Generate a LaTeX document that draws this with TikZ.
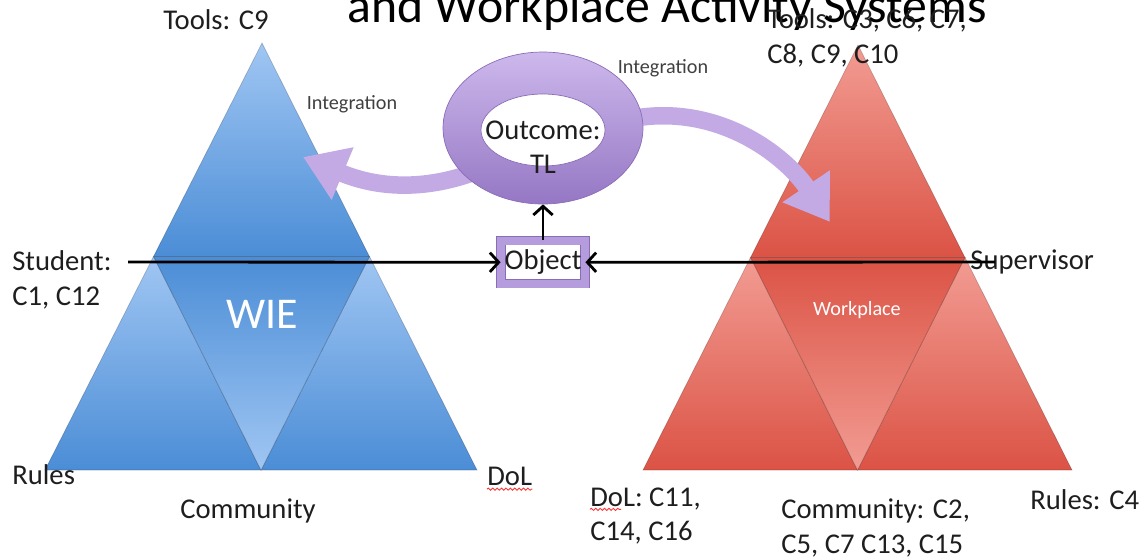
\documentclass[tikz,border=0pt]{standalone}
\usepackage{fontspec}
\setmainfont{Carlito}
\usetikzlibrary{positioning, arrows.meta, shapes.geometric, decorations.pathmorphing}

\definecolor{wielt}{HTML}{A0C6F3}
\definecolor{wiedk}{HTML}{4B8DD6}
\definecolor{wplt}{HTML}{F29C93}
\definecolor{wpdk}{HTML}{DB5345}
\definecolor{ringlt}{HTML}{CDB8EC}
\definecolor{ringdk}{HTML}{9577C4}
\definecolor{ringedge}{HTML}{8A6CB7}
\definecolor{bandfill}{HTML}{C3AAE4}
\definecolor{objframe}{HTML}{B59CDC}
\definecolor{labelgray}{HTML}{1E1E1E}

\begin{document}
\begin{tikzpicture}[x=0.02cm, y=-0.02cm,
  lbl/.style={font=\fontsize{16.3}{19.5}\selectfont, text=labelgray, inner sep=0pt, align=left},
  smalltxt/.style={font=\fontsize{11.5}{13}\selectfont, text=labelgray!85, inner sep=0pt},
  piece/.style={draw=black, draw opacity=0.2, line width=0.4pt},
  link/.style={line width=1.6pt, -{Straight Barb[length=5pt, width=11pt]}},
  band/.style={line width=0.35cm, draw=bandfill, -{Triangle[length=0.86cm, width=1.08cm]}},
  ring/.style={ellipse, minimum width=4cm, minimum height=3.04cm, top color=ringlt,
               bottom color=ringdk, draw=ringedge, line width=0.4pt},
  hole/.style={ellipse, minimum width=2.48cm, minimum height=1.44cm, fill=white,
               draw=ringedge, line width=0.4pt},
  objbox/.style={draw=ringedge, double=objframe, double distance=0.15cm, line width=0.5pt,
                 fill=white, minimum width=1.68cm, minimum height=0.86cm, inner sep=0pt},
  squiggle/.style={draw=red!80, line width=0.5pt, decorate,
                   decoration={snake, amplitude=0.6pt, segment length=2.5pt}}
]
\useasboundingbox (0,0) rectangle (1147,559);
\clip (0,0) rectangle (1147,559);

% Title (cut by the frame)
\node[font=\fontsize{28.3}{34}\selectfont, anchor=base] (title) at (667,22) {and Workplace Activity Systems};

% WIE triangle
\shadedraw[piece, top color=wielt, bottom color=wiedk] (262,43) -- (153.5,256.5) -- (369.5,256.5) -- cycle;
\shadedraw[piece, top color=wielt, bottom color=wiedk] (153.5,256.5) -- (45,470) -- (261,470) -- cycle;
\shadedraw[piece, top color=wielt, bottom color=wiedk] (369.5,256.5) -- (261,470) -- (477,470) -- cycle;
\shadedraw[piece, top color=wiedk, bottom color=wielt] (153.5,256.5) -- (369.5,256.5) -- (261,470) -- cycle;

% Workplace triangle
\shadedraw[piece, top color=wplt, bottom color=wpdk] (858,45) -- (750.5,257.5) -- (965,257.5) -- cycle;
\shadedraw[piece, top color=wplt, bottom color=wpdk] (750.5,257.5) -- (643,470) -- (857.5,470) -- cycle;
\shadedraw[piece, top color=wplt, bottom color=wpdk] (965,257.5) -- (857.5,470) -- (1072,470) -- cycle;
\shadedraw[piece, top color=wpdk, bottom color=wplt] (750.5,257.5) -- (965,257.5) -- (857.5,470) -- cycle;

% Integration arrows
\coordinate (lband) at (485,168);
\coordinate (ltip) at (303,157);
\coordinate (rband) at (625,120);
\coordinate (rtip) at (830,222);
\draw[band] (lband) .. controls (420,195) and (370,185) .. (ltip);
\draw[band] (rband) .. controls (715,100) and (785,155) .. (rtip);

% Outcome ring
\node[ring] (ring) at (543,128) {};
\node[hole] (hole) at (543,130) {};
\node[lbl, align=center] (outcome) at (543,147) {Outcome:\\TL};

% Object
\node[objbox, lbl, below=0.72cm of ring] (object) {Object};
\draw[link] (object) -- (ring);

% Subjects
\node[lbl, anchor=west] (student) at (12,280) {Student:\\C1, C12};
\node[lbl, anchor=west] (supervisor) at (970,262) {Supervisor};
\coordinate (stuline) at (128,262);
\draw[link] (stuline) -- (object.west);
\draw[link] ([xshift=0.5cm]supervisor.west) -- (object.east);

% Labels, WIE
\node[lbl] (tools1) at (216,20) {Tools: C9};
\node[smalltxt] (integ1) at (352,104) {Integration};
\node[font=\fontsize{25}{30}\selectfont, text=white] (wie) at (262,314) {WIE};
\node[lbl, anchor=west] (rules1) at (12,475) {Rules};
\node[lbl, anchor=west] (dol1) at (487,476) {DoL};
\node[lbl] (comm1) at (248,511) {Community};
\draw[squiggle] ([yshift=-2pt]dol1.south west) -- ([yshift=-2pt]dol1.south east);

% Labels, Workplace
\node[smalltxt] (integ2) at (663,68) {Integration};
\node[lbl, anchor=west] (tools2) at (767,38) {Tools: C3, C6, C7,\\C8, C9, C10};
\node[smalltxt, text=white] (wp) at (857,310) {Workplace};
\node[lbl, anchor=west] (dol2) at (590,516) {DoL: C11,\\C14, C16};
\node[lbl, anchor=west] (comm2) at (781,528) {Community: C2,\\C5, C7 C13, C15};
\node[lbl, anchor=west] (rules2) at (1030,500) {Rules: C4};
\draw[squiggle] ([yshift=-12.5pt]dol2.north west) -- ++(31,0);
\end{tikzpicture}
\end{document}
